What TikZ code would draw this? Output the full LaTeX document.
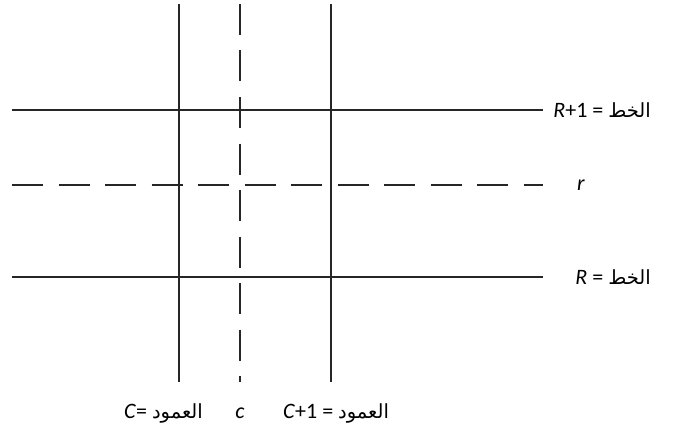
\documentclass[tikz,border=0pt]{standalone}
\usepackage{fontspec}
\setmainfont{Carlito}
\newfontfamily\arabicfont[Script=Arabic]{DejaVu Sans}
\TeXXeTstate=1
\newcommand{\arw}[1]{{\arabicfont\fontsize{19.5}{21}\selectfont\beginR #1\endR}}
\begin{document}
\begin{tikzpicture}[x=1pt,y=-1pt,
  gridline/.style={line width=1.3pt,black!85},
  midline/.style={gridline,dash pattern=on 31pt off 15.5pt},
  lbl/.style={font=\fontsize{22}{24}\selectfont,inner sep=0pt}]
\useasboundingbox (0,0) rectangle (678,436);
% coordinates
\coordinate (v1t) at (179,4);   \coordinate (v1b) at (179,382);
\coordinate (v2t) at (240,4);   \coordinate (v2b) at (240,382);
\coordinate (v3t) at (331,4);   \coordinate (v3b) at (331,382);
\coordinate (h1l) at (12,110);  \coordinate (h1r) at (543,110);
\coordinate (h2l) at (12,185);  \coordinate (h2r) at (543,185);
\coordinate (h3l) at (12,277);  \coordinate (h3r) at (543,277);
% lines
\draw[gridline] (h1l) -- (h1r);
\draw[midline]  (h2l) -- (h2r);
\draw[gridline] (h3l) -- (h3r);
\draw[gridline] (v1t) -- (v1b);
\draw[midline]  (v2t) -- (v2b);
\draw[gridline] (v3t) -- (v3b);
% labels
\node[lbl,anchor=east] (lR1) at (651,110) {\textit{R}+1 = \arw{الخط}};
\node[lbl,anchor=west] (lr) at (577,185) {\textit{r}};
\node[lbl,anchor=east] (lR) at (651,277) {\textit{R} = \arw{الخط}};
\node[lbl,anchor=east] (lC) at (203,413) {\textit{C}= \arw{العمود}};
\node[lbl] (lc) at (240,413) {\textit{c}};
\node[lbl,anchor=west] (lC1) at (283,413) {\textit{C}+1 = \arw{العمود}};
\end{tikzpicture}
\end{document}
